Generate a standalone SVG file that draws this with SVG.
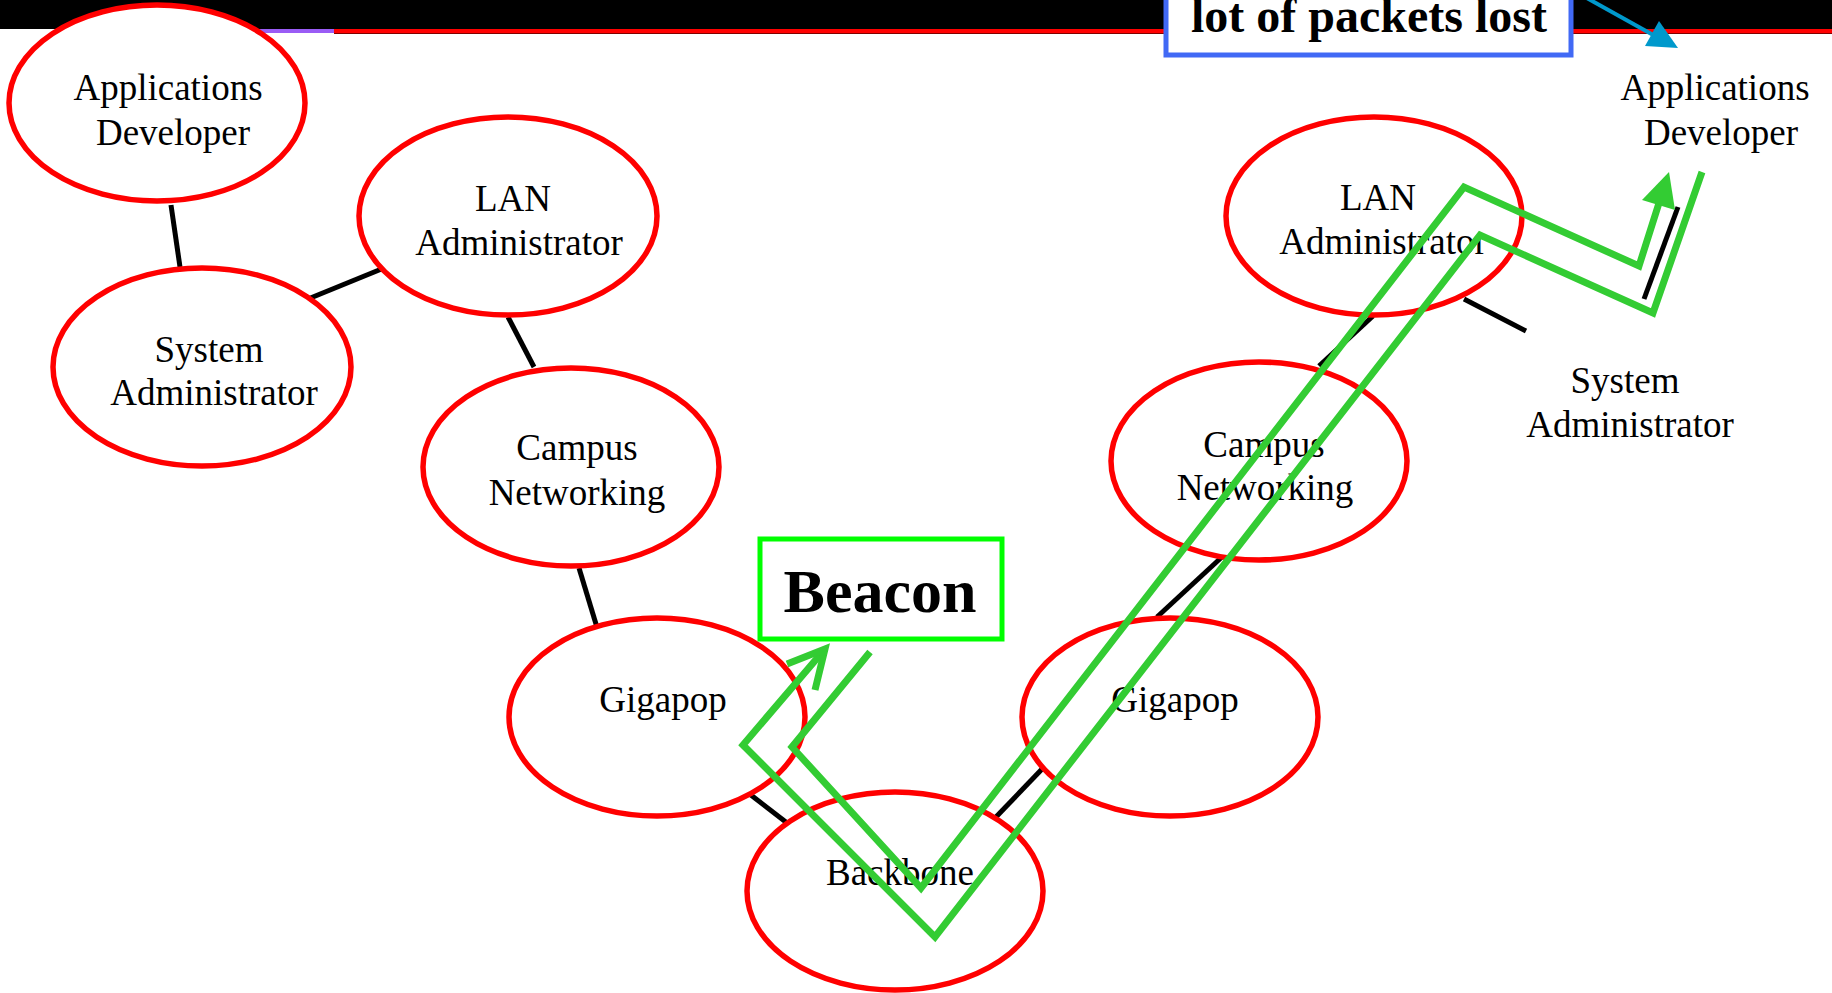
<svg xmlns="http://www.w3.org/2000/svg" width="1832" height="993" viewBox="0 0 1832 993">
<style>
.node{fill:#fff;stroke:#ff0000;stroke-width:5.5}
.lbl{font-family:"Liberation Serif","Times New Roman",serif;font-size:37px;fill:#000;text-anchor:middle}
.edge{stroke:#000;stroke-width:5;fill:none}
.flow{stroke:#33cc33;stroke-width:7;fill:none;stroke-linejoin:miter}
.big{font-family:"Liberation Serif","Times New Roman",serif;font-weight:bold;fill:#000;text-anchor:middle}
</style>
<rect width="1832" height="993" fill="#fff"/>
<g id="topbar">
<rect x="0" y="0" width="1832" height="29" fill="#000"/>
<rect x="150" y="29" width="184" height="4" fill="#9a5cf5"/>
<rect x="334" y="29" width="1498" height="4" fill="#ff0000"/>
<rect x="334" y="33" width="1498" height="1" fill="#800000"/>
</g>
<g id="connectors">
<line class="edge" x1="171" y1="205" x2="180" y2="267"/>
<line class="edge" x1="308" y1="299" x2="384" y2="268"/>
<line class="edge" x1="508" y1="317" x2="534" y2="367"/>
<line class="edge" x1="579" y1="568" x2="599" y2="634"/>
<line class="edge" x1="747" y1="792" x2="791" y2="826"/>
<line class="edge" x1="1043" y1="768" x2="996" y2="817"/>
<line class="edge" x1="1223" y1="556" x2="1157" y2="617"/>
<line class="edge" x1="1373" y1="316" x2="1319" y2="366"/>
<line class="edge" x1="1464" y1="299" x2="1526" y2="331"/>
<line class="edge" x1="1678" y1="207" x2="1644" y2="299"/>
</g>
<g id="appdev-left">
<ellipse class="node" cx="157" cy="103" rx="148" ry="98"/>
<text class="lbl" x="168" y="100">Applications</text>
<text class="lbl" x="173" y="145">Developer</text>
</g>
<g id="sysadmin-left">
<ellipse class="node" cx="202" cy="367" rx="149" ry="99"/>
<text class="lbl" x="209" y="362">System</text>
<text class="lbl" x="214" y="405">Administrator</text>
</g>
<g id="lanadmin-left">
<ellipse class="node" cx="508" cy="216" rx="149" ry="99"/>
<text class="lbl" x="513" y="211">LAN</text>
<text class="lbl" x="519" y="255">Administrator</text>
</g>
<g id="campus-left">
<ellipse class="node" cx="571" cy="467" rx="148" ry="99"/>
<text class="lbl" x="577" y="460">Campus</text>
<text class="lbl" x="577" y="505">Networking</text>
</g>
<g id="gigapop-left">
<ellipse class="node" cx="657" cy="717" rx="148" ry="99"/>
<text class="lbl" x="663" y="712">Gigapop</text>
</g>
<g id="backbone">
<ellipse class="node" cx="895" cy="891" rx="148" ry="99"/>
<text class="lbl" x="900" y="885">Backbone</text>
</g>
<g id="gigapop-right">
<ellipse class="node" cx="1170" cy="717" rx="148" ry="99"/>
<text class="lbl" x="1175" y="712">Gigapop</text>
</g>
<g id="campus-right">
<ellipse class="node" cx="1259" cy="461" rx="148" ry="99"/>
<text class="lbl" x="1264" y="457">Campus</text>
<text class="lbl" x="1265" y="500">Networking</text>
</g>
<g id="lanadmin-right">
<ellipse class="node" cx="1374" cy="216" rx="148" ry="99"/>
<text class="lbl" x="1378" y="210">LAN</text>
<text class="lbl" x="1383" y="254">Administrator</text>
</g>
<g id="sysadmin-right">
<text class="lbl" x="1625" y="393">System</text>
<text class="lbl" x="1630" y="437">Administrator</text>
</g>
<g id="appdev-right">
<text class="lbl" x="1715" y="100">Applications</text>
<text class="lbl" x="1721" y="145">Developer</text>
</g>
<g id="beacon">
<rect x="760" y="539" width="242" height="100" fill="#fff" stroke="#00ff00" stroke-width="5"/>
<text class="big" x="880" y="612" font-size="62">Beacon</text>
</g>
<g id="packets-lost">
<rect x="1166" y="-10" width="405" height="65" fill="#fff" stroke="#4169f5" stroke-width="5"/>
<text class="big" x="1369" y="32" font-size="48">lot of packets lost</text>
<line x1="1585" y1="-3" x2="1655" y2="36" stroke="#0099cc" stroke-width="4"/>
<polygon points="1678,48 1645,46 1659,21" fill="#0099cc"/>
</g>
<g id="flows">
<polyline class="flow" points="825,649 743,745 935,937 1480,235 1653,313 1702,172"/>
<polyline class="flow" points="787,664 825,649 815,690"/>
<polyline class="flow" points="870,652 792,747 921,888 1464,187 1639,266 1659,203"/>
<polygon points="1669,172 1642,200 1675,210" fill="#33cc33"/>
</g>
</svg>
